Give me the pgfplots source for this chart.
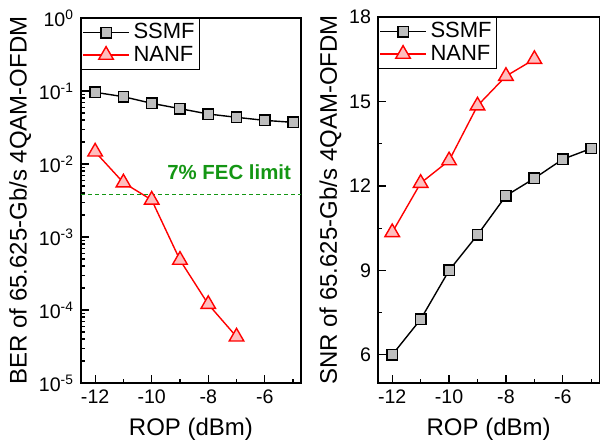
\documentclass[border=0pt]{standalone}
\usepackage{fontspec}
\setmainfont{Liberation Sans}
\usepackage{pgfplots}
\pgfplotsset{compat=1.18}
\definecolor{fecgreen}{RGB}{20,150,20}
\definecolor{markgray}{RGB}{190,190,190}
\definecolor{markpink}{RGB}{255,190,190}

\pgfplotsset{
  common/.style={
    scale only axis,
    xmin=-12.5, xmax=-4.72,
    xtick={-12,-10,-8,-6},
    minor xtick={-11,-9,-7,-5},
    tick align=inside,
    xtick pos=bottom, ytick pos=left,
    major tick length=4pt, minor tick length=2.2pt,
    tick style={black, line width=0.6pt},
    axis line style={line width=0.7pt},
    /pgf/number format/assume math mode=true,
    tick label style={font=\fontsize{9.8}{11}\selectfont},
    label style={font=\fontsize{12}{14}\selectfont},
    xlabel={ROP (dBm)},
    legend style={at={(0,1)}, anchor=north west, draw=black, line width=0.6pt,
      font=\fontsize{11}{12}\selectfont, inner sep=0.5pt, row sep=-2pt,
      nodes={inner sep=2pt}},
    legend cell align=left,
    legend image post style={line width=0.7pt},
    legend image code/.code={
      \draw[mark repeat=2,mark phase=2] plot coordinates {(0cm,0cm) (0.4cm,0cm) (0.8cm,0cm)};},
  },
  ssmf/.style={black, line width=0.7pt, mark=square*, mark size=2.6pt,
    mark options={fill=markgray, draw=black, line width=0.7pt}},
  nanf/.style={red, line width=0.7pt, mark=triangle*, mark size=4.2pt,
    mark options={fill=markpink, draw=red, line width=0.7pt}},
}

\begin{document}
\begin{tikzpicture}
\useasboundingbox (0,0) rectangle (300pt,223pt);
\begin{axis}[common,
  at={(40.5pt,31.5pt)}, anchor=south west,
  width=110pt, height=182.5pt,
  ymode=log, ymin=1e-5, ymax=1,
  ytick={1e-5,1e-4,1e-3,1e-2,1e-1,1},
  yticklabels={10\textsuperscript{-5},10\textsuperscript{-4},10\textsuperscript{-3},10\textsuperscript{-2},10\textsuperscript{-1},10\textsuperscript{0}},
  ylabel={BER of 65.625-Gb/s 4QAM-OFDM},
  ylabel style={yshift=-3pt},
]
\addplot[ssmf] coordinates {(-12,0.096) (-11,0.0836) (-10,0.0678) (-9,0.0573) (-8,0.0484) (-7,0.0436) (-6,0.0396) (-5,0.0372)};
\addplot[nanf] coordinates {(-12,0.0147) (-11,0.00555) (-10,0.00322) (-9,4.84e-4) (-8,1.2e-4) (-7,4.3e-5)};
\addplot[fecgreen, dash pattern=on 2pt off 1.5pt, line width=0.8pt, forget plot] coordinates {(-12.5,3.8e-3) (-4.72,3.8e-3)};
\node[anchor=south east, text=fecgreen, font=\bfseries\fontsize{10.2}{11}\selectfont, inner sep=1pt]
  at (rel axis cs:0.965,0.55) {7\% FEC limit};
\legend{SSMF, NANF}
\end{axis}

\begin{axis}[common,
  at={(189pt,31.5pt)}, anchor=south west,
  width=110.6pt, height=183pt,
  ymin=5, ymax=18,
  ytick={6,9,12,15,18},
  minor ytick={7.5,10.5,13.5,16.5},
  ylabel={SNR of 65.625-Gb/s 4QAM-OFDM},
  ylabel style={yshift=-3pt},
]
\addplot[ssmf] coordinates {(-12,6.0) (-11,7.26) (-10,9.0) (-9,10.26) (-8,11.65) (-7,12.27) (-6,12.95) (-5,13.33)};
\addplot[nanf] coordinates {(-12,10.35) (-11,12.1) (-10,12.9) (-9,14.85) (-8,15.9) (-7,16.5)};
\legend{SSMF, NANF}
\end{axis}
\end{tikzpicture}
\end{document}
